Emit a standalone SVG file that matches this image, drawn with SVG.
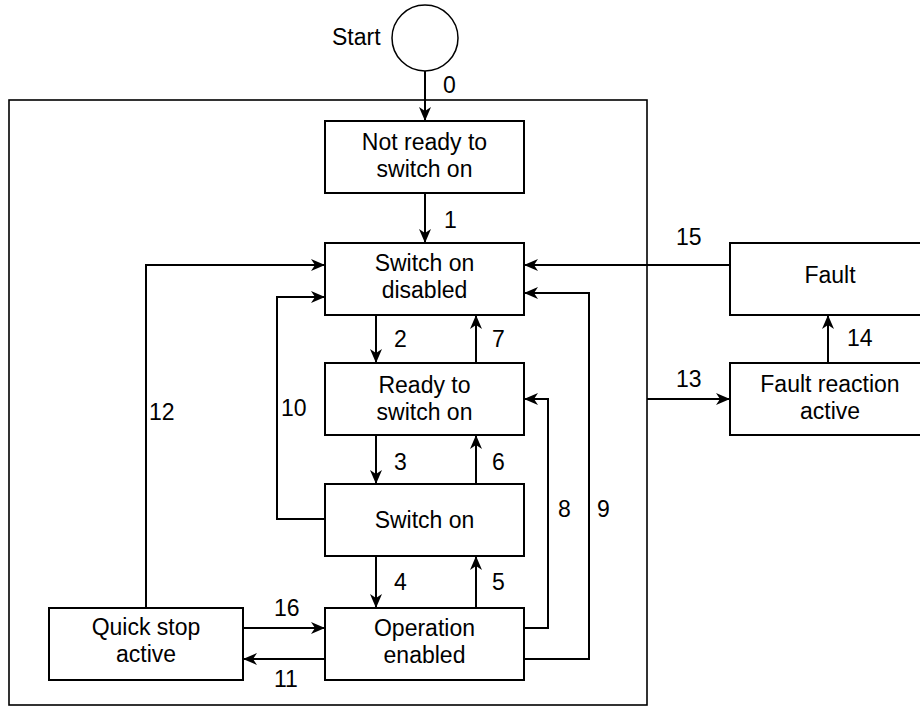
<svg xmlns="http://www.w3.org/2000/svg" width="920" height="706" viewBox="0 0 920 706">
<style>
.box{fill:#fff;stroke:#000;stroke-width:2}
.frame{fill:none;stroke:#000;stroke-width:1.6}
.t{font-family:"Liberation Sans",Arial,sans-serif;font-size:23px;fill:#000}
.c{text-anchor:middle}
.ln{fill:none;stroke:#000;stroke-width:2}
.ar{marker-end:url(#ah)}
</style>
<defs>
<marker id="ah" markerWidth="16" markerHeight="14" refX="14" refY="7" orient="auto" markerUnits="userSpaceOnUse">
<path d="M0,1 L14,7 L0,13 L4,7 Z" fill="#000"/>
</marker>
</defs>
<rect width="920" height="706" fill="#fff"/>
<rect id="frame" class="frame" x="9" y="100" width="638" height="605"/>
<g id="start">
<circle cx="425" cy="38" r="33" fill="#fff" stroke="#000" stroke-width="1.5"/>
<text class="t" x="332" y="45">Start</text>
</g>
<g id="not-ready">
<rect class="box" x="325" y="121" width="199" height="72"/>
<text class="t c" x="424.5" y="150">Not ready to</text>
<text class="t c" x="424.5" y="177">switch on</text>
</g>
<g id="switch-on-disabled">
<rect class="box" x="325" y="243" width="199" height="72"/>
<text class="t c" x="424.5" y="271">Switch on</text>
<text class="t c" x="424.5" y="298">disabled</text>
</g>
<g id="ready">
<rect class="box" x="325" y="363" width="199" height="72"/>
<text class="t c" x="424.5" y="393">Ready to</text>
<text class="t c" x="424.5" y="420">switch on</text>
</g>
<g id="switch-on">
<rect class="box" x="325" y="484" width="199" height="72"/>
<text class="t c" x="424.5" y="528">Switch on</text>
</g>
<g id="operation-enabled">
<rect class="box" x="325" y="608" width="199" height="72"/>
<text class="t c" x="424.5" y="636">Operation</text>
<text class="t c" x="424.5" y="663">enabled</text>
</g>
<g id="quick-stop">
<rect class="box" x="49" y="608" width="194" height="72"/>
<text class="t c" x="146" y="635">Quick stop</text>
<text class="t c" x="146" y="662">active</text>
</g>
<g id="fault">
<rect class="box" x="730" y="243" width="200" height="72"/>
<text class="t c" x="830" y="283">Fault</text>
</g>
<g id="fault-reaction">
<rect class="box" x="730" y="363" width="200" height="72"/>
<text class="t c" x="830" y="392">Fault reaction</text>
<text class="t c" x="830" y="419">active</text>
</g>
<g id="connectors">
<path class="ln ar" d="M425,71 V121"/>
<path class="ln ar" d="M425,193 V243"/>
<path class="ln ar" d="M376,315 V363"/>
<path class="ln ar" d="M476,363 V315"/>
<path class="ln ar" d="M376,435 V484"/>
<path class="ln ar" d="M476,484 V435"/>
<path class="ln ar" d="M376,556 V608"/>
<path class="ln ar" d="M476,608 V556"/>
<path class="ln ar" d="M146,608 V265 H325"/>
<path class="ln ar" d="M325,519 H277 V297 H325"/>
<path class="ln ar" d="M524,628 H548 V399 H524"/>
<path class="ln ar" d="M524,659 H589 V293 H524"/>
<path class="ln ar" d="M243,628 H325"/>
<path class="ln ar" d="M325,659 H243"/>
<path class="ln ar" d="M730,265 H524"/>
<path class="ln ar" d="M647,399 H730"/>
<path class="ln ar" d="M828,363 V315"/>
<text class="t" x="443" y="93">0</text>
<text class="t" x="444" y="228">1</text>
<text class="t" x="394" y="347">2</text>
<text class="t" x="492" y="347">7</text>
<text class="t" x="394" y="470">3</text>
<text class="t" x="492" y="470">6</text>
<text class="t" x="394" y="590">4</text>
<text class="t" x="492" y="590">5</text>
<text class="t" x="149" y="420">12</text>
<text class="t" x="281" y="416">10</text>
<text class="t" x="558" y="517">8</text>
<text class="t" x="597" y="517">9</text>
<text class="t" x="274" y="616">16</text>
<text class="t" x="274" y="687">11</text>
<text class="t" x="676" y="245">15</text>
<text class="t" x="676" y="387">13</text>
<text class="t" x="847" y="346">14</text>
</g>
</svg>
